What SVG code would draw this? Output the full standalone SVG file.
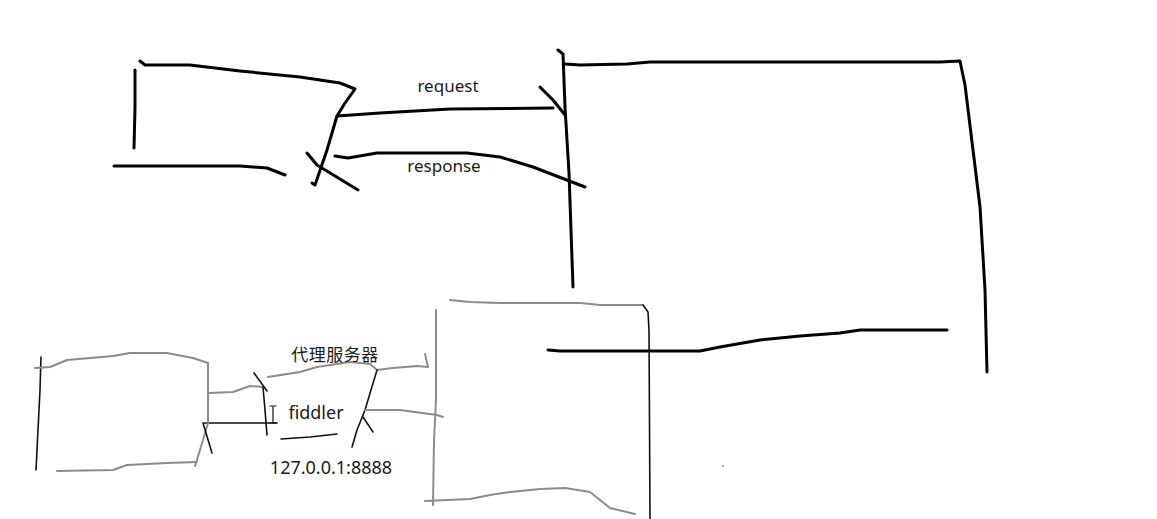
<svg xmlns="http://www.w3.org/2000/svg" width="1157" height="519" viewBox="0 0 1157 519">
<style>
.thick{fill:none;stroke:#000;stroke-width:3;stroke-linecap:round;stroke-linejoin:round}
.thin{fill:none;stroke:#111;stroke-width:1.6;stroke-linecap:round;stroke-linejoin:round}
.gray{fill:none;stroke:#8c8c8c;stroke-width:2;stroke-linecap:round;stroke-linejoin:round}
.lbl{font-family:"Noto Sans","Noto Sans CJK SC",sans-serif;font-size:17px;fill:#1a1a1a}
</style>
<rect width="1157" height="519" fill="#fff"/>
<g id="client-top">
<path class="thick" d="M140,61 L145,65 L190,65 L240,71 L300,77 L340,83 L355,89 L345,103 L337,116 L327,150 L315,185 L312,183"/>
<path class="thick" d="M135,70 L135,108 L134,148"/>
<path class="thick" d="M114,166 L240,166 L267,168 L285,175"/>
</g>
<g id="server-top">
<path class="thick" d="M558,50 L563,54 L565,107 L569,173 L573,287"/>
<path class="thick" d="M565,64 L580,65 L627,64 L650,62 L940,62 L960,61 L965,85 L973,150 L980,207 L985,290 L987,372"/>
<path class="thick" d="M548,350 L560,351 L700,351 L720,347 L760,340 L800,336 L840,333 L860,330 L947,330"/>
</g>
<g id="connectors">
<path class="thick" d="M337,116 L380,113 L450,109 L553,108"/>
<path class="thick" d="M540,87 L553,100 L565,115"/>
<path class="thick" d="M335,156 L348,158 L377,153 L467,153 L500,157 L533,167 L585,187"/>
<path class="thick" d="M307,153 L317,165 L358,190"/>
<path class="thin" d="M204,423 L277,423"/>
<path class="gray" d="M209,393 L233,392 L250,386 L263,387"/>
<path class="thin" d="M263,387 L265,410 L267,435"/>
<path class="thin" d="M254,373 L267,391"/>
<path class="gray" d="M268,377 L300,372 L317,367 L350,362 L370,364 L377,370 L393,368 L417,366 L428,367 L425,354"/>
<path class="thin" d="M377,370 L365,410 L357,430 L352,447"/>
<path class="thin" d="M363,417 L373,432"/>
<path class="gray" d="M365,410 L400,410 L437,415 L443,417"/>
<path class="thin" d="M281,439 L310,437 L337,434"/>
<path class="thin" d="M273,407 L273,422 M270,406 L276,406 M270,423 L276,423" style="stroke-width:1.2"/>
</g>
<g id="client-bottom">
<path class="thin" d="M41,357 L40,390 L38,430 L36,470"/>
<path class="gray" d="M35,368 L50,367 L67,360 L113,356 L130,353 L167,353 L193,358 L208,363 L208,423 L200,450 L195,466"/>
<path class="gray" d="M57,471 L113,470 L127,465 L167,463 L197,462"/>
<path class="thin" d="M203,423 L212,453"/>
</g>
<g id="proxy-server">
<path class="gray" d="M436,310 L436,400 L434,440 L433,505"/>
<path class="gray" d="M450,300 L470,302 L500,303 L580,303 L600,305 L643,305"/>
<path class="thin" d="M643,305 L648,312 L649,330 L650,519"/>
<path class="gray" d="M425,501 L470,499 L490,495 L510,492 L540,489 L565,488 L590,492 L600,500 L610,508 L635,514"/>
</g>
<g id="labels">
<text class="lbl" x="448" y="92" text-anchor="middle" font-size="17">request</text>
<text class="lbl" x="444" y="172" text-anchor="middle">response</text>
<text class="lbl" x="335" y="361" text-anchor="middle" style="font-size:17px;letter-spacing:0.5px">代理服务器</text>
<text class="lbl" x="316" y="419" text-anchor="middle" style="font-size:18px">fiddler</text>
<text class="lbl" x="331" y="474" text-anchor="middle" style="font-size:18px">127.0.0.1:8888</text>
</g>
<circle cx="723" cy="466" r="1" fill="#888"/>
</svg>
